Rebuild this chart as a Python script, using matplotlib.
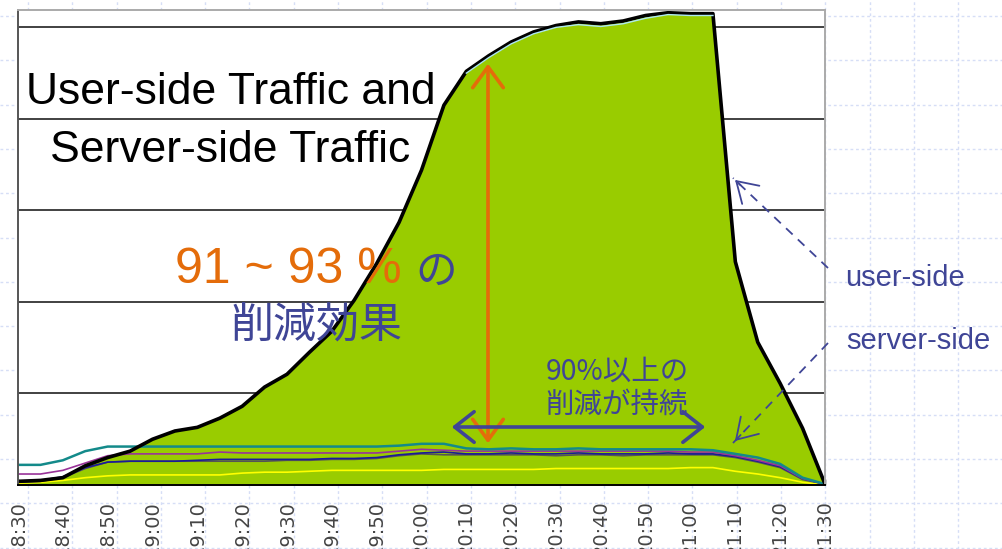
import matplotlib
matplotlib.use("Agg")
import numpy as np
import matplotlib.pyplot as plt
from matplotlib.patches import FancyArrowPatch
from matplotlib.lines import Line2D

# 5-minute samples, 18:30 - 21:30
times = ["18:30", "18:35", "18:40", "18:45", "18:50", "18:55", "19:00", "19:05", "19:10", "19:15",
         "19:20", "19:25", "19:30", "19:35", "19:40", "19:45", "19:50", "19:55", "20:00", "20:05",
         "20:10", "20:15", "20:20", "20:25", "20:30", "20:35", "20:40", "20:45", "20:50", "20:55",
         "21:00", "21:05", "21:10", "21:15", "21:20", "21:25", "21:30"]

user_side = [0.04, 0.05, 0.08, 0.21, 0.30, 0.37, 0.50, 0.59, 0.63, 0.73,
             0.86, 1.07, 1.21, 1.45, 1.68, 2.02, 2.42, 2.87, 3.44, 4.15,
             4.52, 4.69, 4.84, 4.95, 5.02, 5.06, 5.04, 5.07, 5.13, 5.16,
             5.15, 5.15, 2.44, 1.56, 1.11, 0.62, 0.01]
user_side_b = [np.nan] * 20 + [4.50, 4.67, 4.82, 4.93, 5.00, 5.03, 5.01, 5.04, 5.10, 5.14,
                               5.13, 5.13] + [np.nan] * 5

server_teal = [0.22, 0.22, 0.27, 0.37, 0.42, 0.42, 0.42, 0.42, 0.42, 0.42,
               0.42, 0.42, 0.42, 0.42, 0.42, 0.42, 0.42, 0.43, 0.45, 0.45,
               0.40, 0.39, 0.40, 0.39, 0.39, 0.40, 0.39, 0.39, 0.39, 0.39,
               0.39, 0.38, 0.34, 0.30, 0.23, 0.08, 0.01]
server_purple = [0.12, 0.12, 0.16, 0.24, 0.32, 0.34, 0.34, 0.34, 0.34, 0.36,
                 0.35, 0.35, 0.35, 0.35, 0.35, 0.35, 0.35, 0.37, 0.39, 0.38,
                 0.37, 0.37, 0.37, 0.37, 0.37, 0.37, 0.37, 0.37, 0.37, 0.37,
                 0.36, 0.36, 0.32, 0.27, 0.21, 0.07, 0.01]
server_navy = [0.04, 0.05, 0.09, 0.19, 0.25, 0.26, 0.26, 0.26, 0.27, 0.28,
               0.28, 0.28, 0.28, 0.28, 0.29, 0.29, 0.30, 0.33, 0.35, 0.36,
               0.34, 0.34, 0.35, 0.34, 0.34, 0.35, 0.34, 0.34, 0.34, 0.35,
               0.34, 0.34, 0.31, 0.26, 0.20, 0.07, 0.01]
server_gray = [0.03, 0.04, 0.08, 0.18, 0.25, 0.26, 0.26, 0.26, 0.26, 0.26,
               0.26, 0.26, 0.27, 0.27, 0.28, 0.28, 0.29, 0.32, 0.34, 0.33,
               0.33, 0.33, 0.33, 0.33, 0.32, 0.33, 0.33, 0.32, 0.33, 0.33,
               0.33, 0.33, 0.30, 0.25, 0.19, 0.06, 0.01]
server_yellow = [0.02, 0.03, 0.05, 0.08, 0.10, 0.11, 0.11, 0.11, 0.11, 0.11,
                 0.13, 0.14, 0.14, 0.15, 0.16, 0.16, 0.16, 0.16, 0.16, 0.17,
                 0.17, 0.17, 0.17, 0.17, 0.18, 0.18, 0.18, 0.18, 0.18, 0.18,
                 0.19, 0.19, 0.15, 0.12, 0.08, 0.03, 0.00]

NAVY = "#3f4596"
ORANGE = "#e46c0a"
JP = ["Noto Sans CJK JP", "DejaVu Sans"]

W, H = 1003, 549
fig = plt.figure(figsize=(W / 100, H / 100), dpi=100)


def fx(px):
    return px / W


def fy(py):
    return 1 - py / H


# slide background with light dashed grid
bg = fig.add_axes([0, 0, 1, 1], zorder=-1)
bg.set_xlim(0, W)
bg.set_ylim(H, 0)
bg.axis("off")
for k in range(23):
    bg.axvline(28 + 44.3 * k, color="#d6def6", lw=1, ls=(0, (2, 2)))
    bg.axhline(16 + 44.3 * k, color="#d6def6", lw=1, ls=(0, (2, 2)))

ax = fig.add_axes([fx(18), fy(485), (825 - 18) / W, (485 - 10) / H])
ax.set_facecolor("white")

minutes = [int(t[:2]) * 60 + int(t[3:]) - (18 * 60 + 30) for t in times]

for y in range(1, 6):
    ax.axhline(y, color="#333333", lw=1.3, zorder=1)

ax.fill_between(minutes, user_side, color="#99cc00", zorder=2, lw=0)
ax.plot(minutes, user_side, color="black", lw=2.6, zorder=4)
ax.plot(minutes, user_side_b, color="#aee8f2", lw=1.0, zorder=5)

ax.plot(minutes, server_yellow, color="#ffff00", lw=1.2, zorder=3)
ax.plot(minutes, server_gray, color="#555555", lw=1.2, zorder=3)
ax.plot(minutes, server_navy, color="#1a1a99", lw=1.2, zorder=3)
ax.plot(minutes, server_purple, color="#993399", lw=1.2, zorder=3)
ax.plot(minutes, server_teal, color="#138a8a", lw=1.8, zorder=3)

ax.set_xlim(0, 180)
ax.set_ylim(0, 5.19)
ax.set_xticks(minutes[::2])
ax.set_xticklabels(times[::2], rotation=90, fontsize=14, color="#444444",
                   family="DejaVu Sans", va="top")
ax.set_xticks(minutes, minor=True)
ax.tick_params(axis="x", which="both", direction="in", length=4, width=1,
               color="black", pad=11)
ax.tick_params(axis="y", left=False, labelleft=False)
ax.spines["left"].set_color("#555555")
ax.spines["bottom"].set_color("black")
ax.spines["top"].set_color("#aaaaaa")
ax.spines["right"].set_color("#aaaaaa")
for s in ax.spines.values():
    s.set_linewidth(1.4)
    s.set_zorder(6)

# titles and annotations
fig.text(fx(231), fy(93), "User-side Traffic and", fontsize=32, family="Liberation Sans",
         ha="center", va="center", color="black")
fig.text(fx(230), fy(150), "Server-side Traffic", fontsize=32, family="Liberation Sans",
         ha="center", va="center", color="black")

fig.text(fx(175), fy(270), "91 ~ 93 %", fontsize=36, family="Liberation Sans",
         ha="left", va="center", color=ORANGE)
fig.text(fx(436), fy(272), "の", fontsize=30, family=JP, ha="center", va="center", color=NAVY)
fig.text(fx(316), fy(327), "削減効果", fontsize=31, family=JP, ha="center", va="center", color=NAVY)

fig.text(fx(617), fy(372), "90%以上の", fontsize=20.5, family=JP, ha="center", va="center", color=NAVY)
fig.text(fx(617), fy(405), "削減が持続", fontsize=20.5, family=JP, ha="center", va="center", color=NAVY)

fig.text(fx(845), fy(278), "user-side", fontsize=21, family="Liberation Sans",
         ha="left", va="center", color=NAVY)
fig.text(fx(846), fy(341), "server-side", fontsize=21, family="Liberation Sans",
         ha="left", va="center", color=NAVY)

# orange vertical arrow
fig.add_artist(FancyArrowPatch(
    (fx(488), fy(446)), (fx(488), fy(61)), transform=fig.transFigure,
    arrowstyle="<->,head_length=0.75,head_width=0.55", mutation_scale=20,
    color=ORANGE, lw=2.6, zorder=7))
# navy horizontal arrow
fig.add_artist(FancyArrowPatch(
    (fx(449), fy(427)), (fx(708), fy(427)), transform=fig.transFigure,
    arrowstyle="<->,head_length=0.7,head_width=0.55", mutation_scale=20,
    color=NAVY, lw=2.6, zorder=7))

# dashed pointers with solid open heads
for start, end in [((828, 268), (733, 178)), ((828, 343), (733, 443))]:
    fig.add_artist(Line2D([fx(start[0]), fx(end[0])], [fy(start[1]), fy(end[1])],
                          transform=fig.transFigure, color=NAVY, lw=1.3,
                          ls=(0, (5, 4)), zorder=7))
    sx = end[0] + (start[0] - end[0]) * 0.1
    sy = end[1] + (start[1] - end[1]) * 0.1
    fig.add_artist(FancyArrowPatch(
        (fx(sx), fy(sy)), (fx(end[0]), fy(end[1])), transform=fig.transFigure,
        arrowstyle="->,head_length=0.8,head_width=0.5", mutation_scale=18,
        color=NAVY, lw=1.3, zorder=7))

fig.savefig("out.png", dpi=100)
